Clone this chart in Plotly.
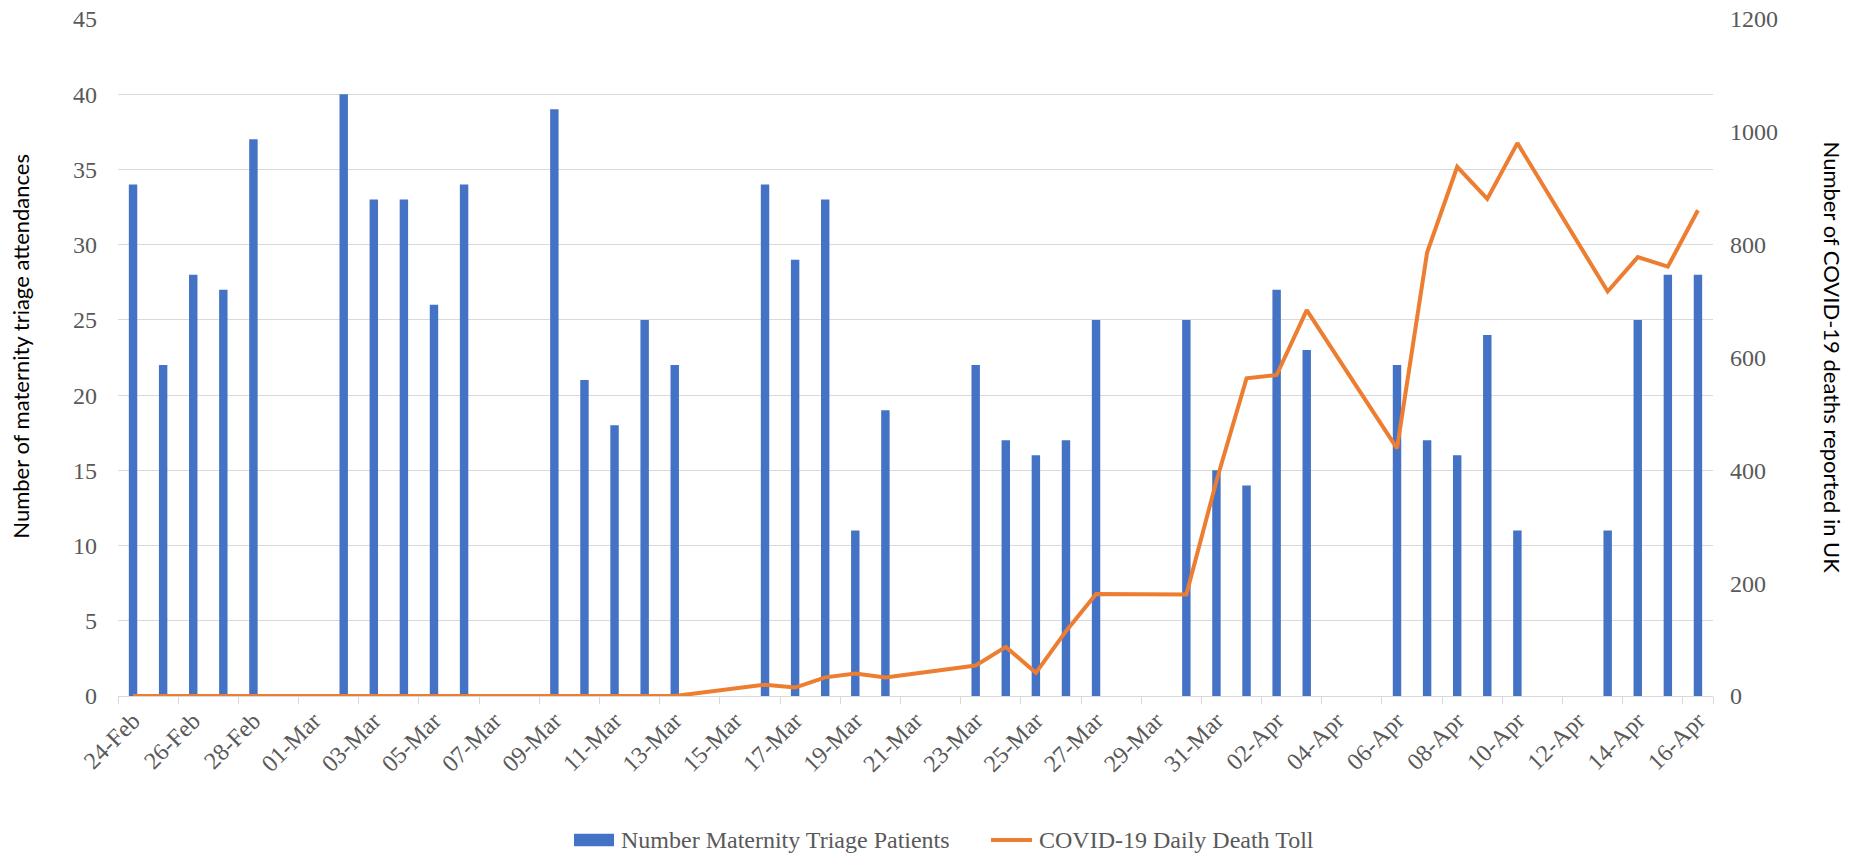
import plotly.graph_objects as go

DATES = ["24-Feb", "25-Feb", "26-Feb", "27-Feb", "28-Feb", "29-Feb",
         "01-Mar", "02-Mar", "03-Mar", "04-Mar", "05-Mar", "06-Mar", "07-Mar", "08-Mar",
         "09-Mar", "10-Mar", "11-Mar", "12-Mar", "13-Mar", "14-Mar", "15-Mar",
         "16-Mar", "17-Mar", "18-Mar", "19-Mar", "20-Mar", "21-Mar", "22-Mar",
         "23-Mar", "24-Mar", "25-Mar", "26-Mar", "27-Mar", "28-Mar", "29-Mar",
         "30-Mar", "31-Mar", "01-Apr", "02-Apr", "03-Apr", "04-Apr", "05-Apr",
         "06-Apr", "07-Apr", "08-Apr", "09-Apr", "10-Apr", "11-Apr", "12-Apr",
         "13-Apr", "14-Apr", "15-Apr", "16-Apr"]

TRIAGE = [34, 22, 28, 27, 37, None,
          None, 40, 33, 33, 26, 34, None, None,
          39, 21, 18, 25, 22, None, None,
          34, 29, 33, 11, 19, None, None,
          22, 17, 16, 17, 25, None, None,
          25, 15, 14, 27, 23, None, None,
          22, 17, 16, 24, 11, None, None,
          11, 25, 28, 28]

DEATHS = [0, 0, 0, 0, 0, None,
          None, 0, 0, 0, 0, 0, None, None,
          0, 0, 0, 0, 0, None, None,
          20, 15, 33, 40, 33, None, None,
          54, 87, 41, 115, 181, None, None,
          180, 381, 563, 569, 684, None, None,
          439, 786, 938, 881, 980, None, None,
          717, 778, 761, 861]

TICK_LABELS = ["24-Feb", "26-Feb", "28-Feb", "01-Mar", "03-Mar", "05-Mar", "07-Mar",
               "09-Mar", "11-Mar", "13-Mar", "15-Mar", "17-Mar", "19-Mar", "21-Mar",
               "23-Mar", "25-Mar", "27-Mar", "29-Mar", "31-Mar", "02-Apr", "04-Apr",
               "06-Apr", "08-Apr", "10-Apr", "12-Apr", "14-Apr", "16-Apr"]

LEFT_TICKS = [0, 5, 10, 15, 20, 25, 30, 35, 40, 45]
RIGHT_TICKS = [0, 200, 400, 600, 800, 1000, 1200]

BAR_NAME = "Number Maternity Triage Patients"
LINE_NAME = "COVID-19 Daily Death Toll"
BAR_COLOR = "#4472C4"
LINE_COLOR = "#ED7D31"

SERIF = "Liberation Serif"
SANS = "Lato"
GRAY = "#595959"
GRID = "#D9D9D9"

fig = go.Figure()
fig.add_trace(go.Bar(
    x=DATES, y=TRIAGE, name=BAR_NAME,
    marker=dict(color=BAR_COLOR, line=dict(width=0)),
    yaxis="y"))
fig.add_trace(go.Scatter(
    x=DATES, y=DEATHS, name=LINE_NAME,
    mode="lines", connectgaps=True,
    line=dict(color=LINE_COLOR, width=4),
    yaxis="y2"))

# custom legend (Excel-style wide swatch), placed below the plot
LEG_Y = -0.2127
shapes = [
    dict(type="rect", xref="paper", yref="paper",
         x0=0.2859, x1=0.3110, y0=LEG_Y - 0.0093, y1=LEG_Y + 0.0093,
         fillcolor=BAR_COLOR, line=dict(width=0)),
    dict(type="line", xref="paper", yref="paper",
         x0=0.5473, x1=0.5730, y0=LEG_Y, y1=LEG_Y,
         line=dict(color=LINE_COLOR, width=4)),
]

fig.update_layout(
    width=1861, height=857,
    paper_bgcolor="white", plot_bgcolor="white",
    margin=dict(l=118, r=148, t=19, b=161, autoexpand=False),
    bargap=0.72,
    showlegend=False,
    shapes=shapes,
    xaxis=dict(type="category", categoryorder="array", categoryarray=DATES,
               range=[-0.5, len(DATES) - 0.5],
               tickmode="array", tickvals=TICK_LABELS, ticktext=TICK_LABELS,
               tickangle=-45, tickson="boundaries",
               ticks="outside", ticklen=7, tickcolor=GRID, tickwidth=1.3,
               showline=True, linecolor=GRID, linewidth=1.3,
               showgrid=False, zeroline=False, automargin=False,
               tickfont=dict(family=SERIF, size=24, color=GRAY)),
    yaxis=dict(range=[0, 45], tickmode="array", tickvals=LEFT_TICKS,
               showgrid=True, gridcolor=GRID, gridwidth=1.3,
               zeroline=False, showline=False, ticks="", ticklabelstandoff=20,
               automargin=False,
               tickfont=dict(family=SERIF, size=24, color=GRAY)),
    yaxis2=dict(range=[0, 1200], tickmode="array", tickvals=RIGHT_TICKS,
                overlaying="y", side="right", showgrid=False, zeroline=False,
                showline=False, ticks="", ticklabelstandoff=16, automargin=False,
                tickfont=dict(family=SERIF, size=24, color=GRAY)),
    annotations=[
        dict(text="Number of maternity triage attendances", textangle=-90,
             xref="paper", yref="paper", x=-0.0610, y=0.517,
             xanchor="center", yanchor="middle", showarrow=False,
             font=dict(family=SANS, size=22, color="#000000")),
        dict(text="Number of COVID-19 deaths reported in UK", textangle=90,
             xref="paper", yref="paper", x=1.0752, y=0.5,
             xanchor="center", yanchor="middle", showarrow=False,
             font=dict(family=SANS, size=22, color="#000000")),
        dict(text=BAR_NAME, xref="paper", yref="paper", x=0.3141, y=LEG_Y,
             xanchor="left", yanchor="middle", showarrow=False,
             font=dict(family=SERIF, size=24, color=GRAY)),
        dict(text=LINE_NAME, xref="paper", yref="paper", x=0.5762, y=LEG_Y,
             xanchor="left", yanchor="middle", showarrow=False,
             font=dict(family=SERIF, size=24, color=GRAY)),
    ],
)

fig.write_html("out.html", config={"displayModeBar": False},
               post_script="document.body.style.margin='0px';")
